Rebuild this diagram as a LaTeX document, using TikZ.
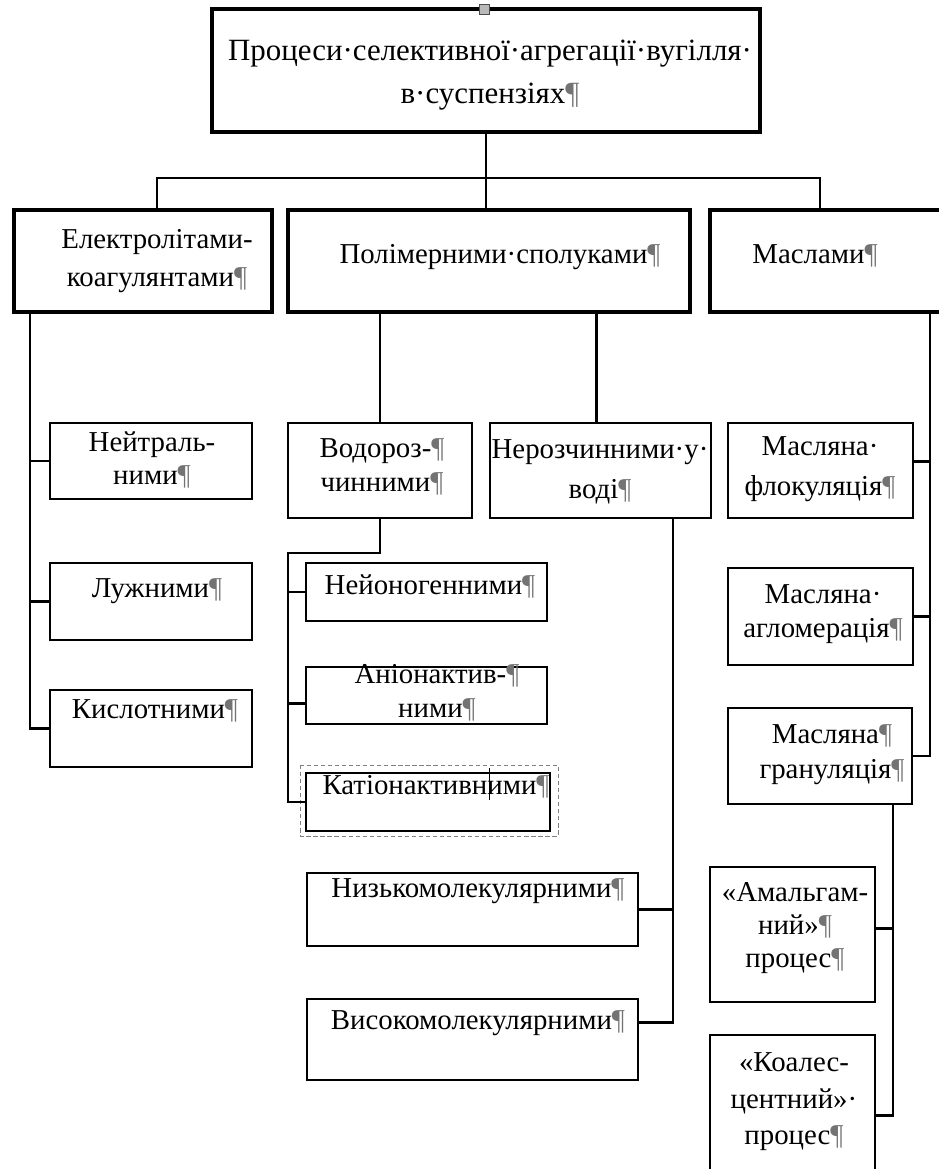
\documentclass[tikz,border=0pt]{standalone}
\usepackage{fontspec}
\setmainfont{Liberation Serif}
\usetikzlibrary{calc}

\newcommand{\pilc}{\textcolor{black!55}{¶}}
% box node from its corners: style, name, x1, y1, x2, y2 (pixels)
\newcommand{\boxat}[6]{\node[#1, minimum width={(#5-#3)*0.025cm}, minimum height={(#6-#4)*0.025cm}] (#2) at ({(#3+#5)/2},{(#4+#6)/2}) {};}

\begin{document}
\begin{tikzpicture}[x=0.025cm, y=-0.025cm,
  mainbox/.style={draw, line width=2.8pt, inner sep=0pt, outer sep=0pt},
  subbox/.style={draw, line width=1.7pt, inner sep=0pt, outer sep=0pt},
  conn/.style={line width=1.6pt},
  txt/.style={font=\fontsize{20.5}{24}\selectfont, align=center, inner sep=0pt}
]
  \useasboundingbox (0,0) rectangle (939,1169);
  \clip (0,0) rectangle (939,1169);

  % Top box
  \boxat{mainbox}{top}{212}{9}{760}{132}
  \node[draw=gray!60!black, fill=gray!55, minimum size=0.24cm, inner sep=0pt] (handle) at (484,9) {};
  \node[txt, font=\fontsize{22}{30.5}\selectfont] (tTop) at (490,75) {Процеси·селективної·агрегації·вугілля·\\в·суспензіях\pilc};

  % Level 1
  \boxat{mainbox}{el}{14}{210}{272}{312}
  \boxat{mainbox}{pol}{288}{210}{690}{312}
  \boxat{mainbox}{ms}{710}{210}{990}{312}
  \node[txt, font=\fontsize{20.5}{27.5}\selectfont] (tEl) at (157,261) {Електролітами-\\коагулянтами\pilc};
  \node[txt] (tPol) at (500,257) {Полімерними·сполуками\pilc};
  \node[txt] (tMs) at (815,256) {Маслами\pilc};

  \coordinate (busL) at (157,178);
  \coordinate (busR) at (820,178);
  \draw[conn] (top.south) -- (top.south |- pol.north);
  \draw[conn] (el.north -| busL) |- (busR) -- (busR |- ms.north);

  % Electrolytes
  \boxat{subbox}{ney}{50}{423}{252}{499}
  \boxat{subbox}{luz}{50}{563}{252}{640}
  \boxat{subbox}{kis}{50}{690}{252}{767}
  \node[txt] (tNey) at (152,460) {Нейтраль-\\ними\pilc};
  \node[txt] (tLuz) at (157,591) {Лужними\pilc};
  \node[txt] (tKis) at (155,711) {Кислотними\pilc};

  \coordinate (spineL) at (30,0);
  \draw[conn] (el.south -| spineL) |- (kis.west);
  \draw[conn] (spineL |- ney.west) -- (ney.west);
  \draw[conn] (spineL |- luz.west) -- (luz.west);

  % Polymers
  \boxat{subbox}{vod}{288}{423}{472}{518}
  \boxat{subbox}{ner}{490}{423}{711}{518}
  \node[txt] (tVod) at (382,467) {Водороз-\pilc\\чинними\pilc};
  \node[txt, font=\fontsize{20.5}{28}\selectfont] (tNer) at (600,472) {Нерозчинними·у·\\воді\pilc};
  \draw[conn] (pol.south -| vod.north) -- (vod.north);
  \draw[conn] ($(pol.south -| ner.north)+(-4,0)$) -- ($(ner.north)+(-4,0)$);

  \boxat{subbox}{nio}{306}{563}{547}{621}
  \boxat{subbox}{ani}{306}{667}{547}{724}
  \boxat{subbox}{kat}{306}{773}{550}{831}
  \node[txt] (tNio) at (430,586) {Нейоногенними\pilc};
  \node[txt] (tAni) at (437,693) {Аніонактив-\pilc\\ними\pilc};
  \node[txt] (tKat) at (436,787) {Катіонактивними\pilc};
  \draw[densely dashed, gray, line width=0.6pt] (300,765) rectangle (558,836);
  \draw[line width=0.7pt] (489,768) -- (489,800);

  \coordinate (spineW) at (288,553);
  \draw[conn] (vod.south) |- (spineW) |- (kat.west);
  \draw[conn] (spineW |- nio.west) -- (nio.west);
  \draw[conn] ($(spineW |- ani.west)+(0,8)$) -- ($(ani.west)+(0,8)$);

  \boxat{subbox}{niz}{307}{873}{638}{946}
  \boxat{subbox}{vys}{307}{999}{638}{1080}
  \node[txt] (tNiz) at (478,891) {Низькомолекулярними\pilc};
  \node[txt] (tVys) at (478,1023) {Високомолекулярними\pilc};

  \coordinate (spineN) at (673,0);
  \draw[conn] (ner.south -| spineN) |- ($(vys.east)+(0,-17)$);
  \draw[conn] (spineN |- niz.east) -- (niz.east);

  % Oils
  \boxat{subbox}{flo}{728}{423}{913}{518}
  \boxat{subbox}{agl}{728}{568}{913}{665}
  \boxat{subbox}{gra}{728}{708}{912}{804}
  \node[txt, font=\fontsize{20.5}{28}\selectfont] (tFlo) at (820,469) {Масляна·\\флокуляція\pilc};
  \node[txt] (tAgl) at (823,614) {Масляна·\\агломерація\pilc};
  \node[txt, font=\fontsize{20.5}{25}\selectfont] (tGra) at (832,755) {Масляна\pilc\\грануляція\pilc};

  \coordinate (spineM) at (930,0);
  \draw[conn] (ms.south -| spineM) |- (gra.east);
  \draw[conn] ($(spineM |- flo.east)+(0,-9)$) -- ($(flo.east)+(0,-9)$);
  \draw[conn] (spineM |- agl.east) -- (agl.east);

  \boxat{subbox}{aml}{710}{867}{875}{1002}
  \boxat{subbox}{koa}{710}{1035}{875}{1190}
  \node[txt, font=\fontsize{20.5}{23.5}\selectfont] (tAml) at (795,928) {«Амальгам-\\ний»\pilc\\процес\pilc};
  \node[txt, font=\fontsize{20.5}{26}\selectfont] (tKoa) at (794,1102) {«Коалес-\\центний»·\\процес\pilc};

  \coordinate (spineG) at (893,0);
  \draw[conn] (gra.south -| spineG) |- ($(koa.east)+(0,3)$);
  \draw[conn] ($(spineG |- aml.east)+(0,-6)$) -- ($(aml.east)+(0,-6)$);
\end{tikzpicture}
\end{document}
